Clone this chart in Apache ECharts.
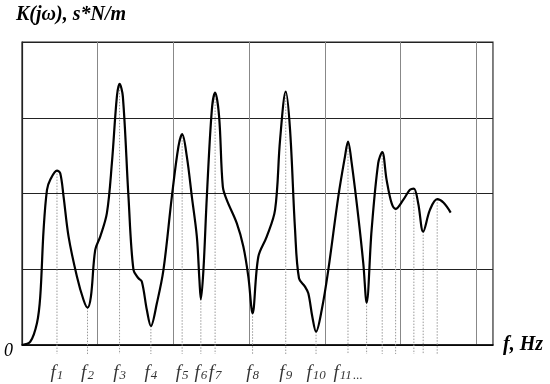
<!DOCTYPE html>
<html>
<head>
<meta charset="utf-8">
<script src="https://cdn.jsdelivr.net/npm/echarts@6/dist/echarts.min.js"></script>
<style>
html,body{margin:0;padding:0;background:#fff;}
#main{width:550px;height:384px;}
</style>
</head>
<body>
<div id="main"></div>
<script>
// curve K(jw), x in grid units, y in grid units
var curveX = [0, 0.110, 0.198, 0.241, 0.285, 0.330, 0.373, 0.462, 0.505, 0.549, 0.615, 0.726, 0.813, 0.865, 0.910, 0.967,
  1.033, 1.121, 1.187, 1.253, 1.288, 1.332, 1.406, 1.472, 1.538, 1.583, 1.649, 1.702, 1.781, 1.868, 1.979,
  2.066, 2.115, 2.177, 2.243, 2.309, 2.343, 2.362, 2.396, 2.441, 2.507, 2.550, 2.603, 2.652, 2.704, 2.836, 2.923, 2.989,
  3.045, 3.121, 3.232, 3.342, 3.408, 3.483, 3.540, 3.606, 3.658, 3.737, 3.781, 3.834, 3.883, 3.958,
  4.045, 4.177, 4.265, 4.305, 4.354, 4.441, 4.507, 4.551, 4.617, 4.704, 4.757, 4.815, 4.881, 4.934,
  5.034, 5.123, 5.175, 5.232, 5.298, 5.387, 5.483, 5.565, 5.661];
var curveY = [0, 0.044, 0.291, 0.638, 1.519, 2.048, 2.180, 2.303, 2.268, 1.959, 1.431, 0.902, 0.594, 0.493, 0.638, 1.255,
  1.431, 1.740, 2.400, 3.280, 3.448, 3.280, 1.959, 0.991, 0.881, 0.836, 0.462, 0.251, 0.551, 0.991, 1.959,
  2.620, 2.783, 2.487, 1.959, 1.431, 0.859, 0.604, 0.991, 1.959, 3.104, 3.333, 3.016, 2.091, 1.915, 1.608, 1.299, 0.902,
  0.419, 1.166, 1.431, 1.783, 2.708, 3.346, 2.840, 1.519, 0.881, 0.770, 0.683, 0.374, 0.176, 0.462,
  0.991, 1.959, 2.487, 2.686, 2.400, 1.695, 1.079, 0.559, 1.519, 2.400, 2.546, 2.180, 1.872, 1.797,
  1.915, 2.048, 2.065, 1.872, 1.497, 1.783, 1.925, 1.880, 1.748];

// dotted drop lines at the extrema
var dropX = [0.462, 0.865, 1.288, 1.702, 2.115, 2.362, 2.550, 3.045, 3.483, 3.883, 4.305, 4.551, 4.757, 4.934, 5.175, 5.298, 5.483];
var dropY = [2.303, 0.493, 3.448, 0.251, 2.783, 0.604, 3.333, 0.419, 3.346, 0.176, 2.686, 0.559, 2.546, 1.797, 2.065, 1.497, 1.925];

// frequency labels under the first eleven drop lines
var freqLabels = ['f1', 'f2', 'f3', 'f4', 'f5', 'f6', 'f7', 'f8', 'f9', 'f10', 'f11...'];

var myChart = echarts.init(document.getElementById('main'));

var curveData = [];
for (var i = 0; i < curveX.length; i++) {
  curveData.push([curveX[i], curveY[i]]);
}
var dropData = [];
for (var j = 0; j < dropX.length; j++) {
  dropData.push([dropX[j], dropY[j]]);
}
var labelData = [];
for (var k = 0; k < freqLabels.length; k++) {
  labelData.push([dropX[k], 0, freqLabels[k]]);
}

var serif = '"Liberation Serif", "DejaVu Serif", serif';

var option = {
  animation: false,
  grid: {
    left: 22, top: 42, right: 57, bottom: 39,
    show: true,
    borderColor: '#222',
    borderWidth: 1.2
  },
  xAxis: {
    type: 'value',
    min: 0, max: 6.22, interval: 1,
    name: 'f, Hz',
    nameLocation: 'end',
    nameGap: 10,
    nameTextStyle: {
      fontFamily: serif, fontStyle: 'italic', fontWeight: 'bold', fontSize: 20, color: '#000',
      padding: [4, 0, 0, 0]
    },
    axisLine: { lineStyle: { color: '#000', width: 1.5 } },
    axisTick: { show: false },
    axisLabel: { show: false },
    splitLine: { show: true, lineStyle: { color: '#888', width: 1 } }
  },
  yAxis: {
    type: 'value',
    min: 0, max: 4, interval: 1,
    name: 'K(jω), s*N/m',
    nameLocation: 'end',
    nameGap: 17,
    nameTextStyle: {
      fontFamily: serif, fontStyle: 'italic', fontWeight: 'bold', fontSize: 20, color: '#000',
      align: 'left', padding: [0, 0, 0, -6]
    },
    axisLine: { show: true, lineStyle: { color: '#222', width: 1.2 } },
    axisTick: { show: false },
    axisLabel: {
      show: true,
      formatter: function (v) { return v === 0 ? '0' : ''; },
      fontFamily: serif, fontStyle: 'italic', fontSize: 18, color: '#000',
      margin: 9,
      verticalAlign: 'top',
      padding: [-3, 0, 0, 0]
    },
    splitLine: { show: true, lineStyle: { color: '#222', width: 1.2 } }
  },
  series: [
    {
      type: 'custom',
      clip: false,
      z: 1,
      data: dropData,
      renderItem: function (params, api) {
        var top = api.coord([api.value(0), api.value(1)]);
        var base = api.coord([api.value(0), 0]);
        return {
          type: 'line',
          shape: { x1: top[0], y1: top[1], x2: base[0], y2: base[1] + 9 },
          style: { stroke: '#999', lineWidth: 1, lineDash: [1.5, 1.5] }
        };
      }
    },
    {
      type: 'line',
      data: curveData,
      smooth: 0.35,
      showSymbol: false,
      z: 3,
      lineStyle: { color: '#000', width: 2.2 }
    },
    {
      type: 'scatter',
      data: labelData,
      symbolSize: 0,
      z: 4,
      label: {
        show: true,
        position: 'bottom',
        distance: 18,
        formatter: function (p) {
          var s = p.data[2];
          var m = s.match(/^f(\d+)(.*)$/);
          return '{f|f}{s|' + m[1] + '}' + (m[2] ? '{d|' + m[2] + '}' : '');
        },
        rich: {
          f: { fontFamily: serif, fontStyle: 'italic', fontSize: 19, color: '#000' },
          s: { fontFamily: serif, fontStyle: 'italic', fontSize: 13, color: '#000', padding: [6, 0, 0, 1] },
          d: { fontFamily: serif, fontSize: 13, color: '#000', padding: [6, 0, 0, 1] }
        }
      }
    }
  ]
};

option && myChart.setOption(option);
</script>
</body>
</html>
